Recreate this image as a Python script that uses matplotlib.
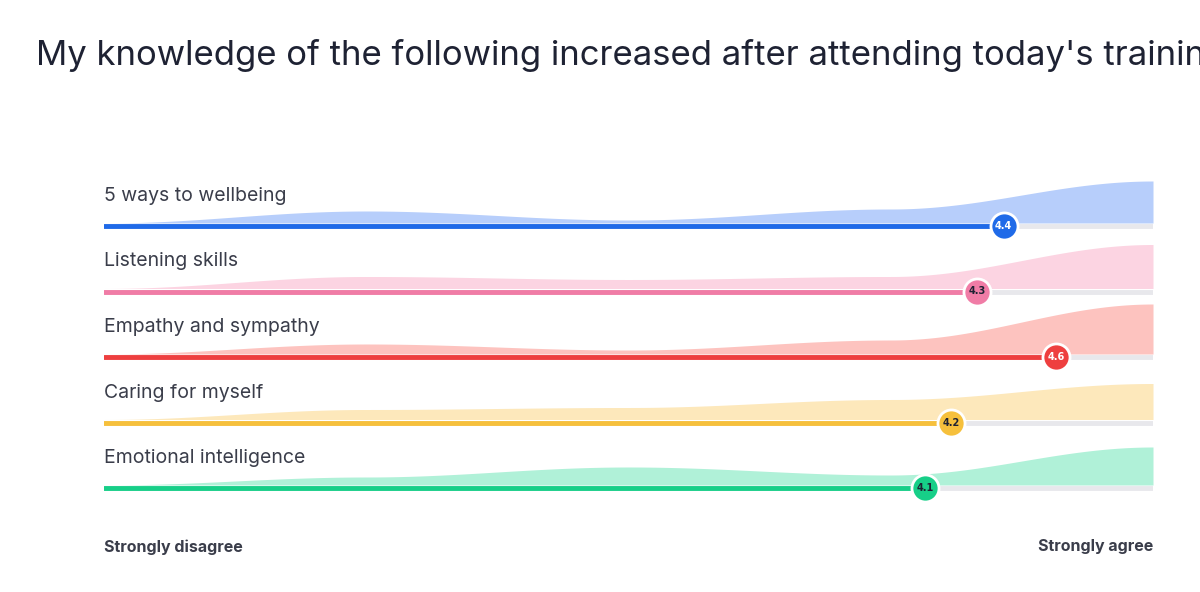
import matplotlib.pyplot as plt
import numpy as np

# survey rows, mean scores and response-shape heights at answers 1..5
items = ['5 ways to wellbeing', 'Listening skills', 'Empathy and sympathy',
         'Caring for myself', 'Emotional intelligence']
means = [4.4, 4.3, 4.6, 4.2, 4.1]
shapes = [
    [0, 12, 3, 14, 42],
    [0, 12, 9, 12, 44],
    [0, 10, 4, 14, 50],
    [0, 10, 12, 20, 36],
    [0, 8, 18, 10, 38],
]
line_cols = ['#1f6ae8', '#f07ca6', '#ee3f3f', '#f6c03c', '#17cf88']
fill_cols = ['#b7cefb', '#fcd4e2', '#fdc3bf', '#fde8bb', '#b0f1d8']
scale = [1, 2, 3, 4, 5]

fig = plt.figure(figsize=(12, 5.92), dpi=100)
fig.text(36 / 1200, 1 - 55 / 592, "My knowledge of the following increased after attending today's training",
         fontsize=25, color='#1e2233', family='Inter', va='center')

ax = fig.add_axes([104 / 1200, 0, 1049 / 1200, 1])
ax.set_xlim(1, 5)
ax.set_ylim(592, 0)
ax.axis('off')

def smooth(xs, nodes):
    # cosine easing between the five response heights
    out = np.zeros_like(xs)
    for i in range(4):
        m = (xs >= scale[i]) & (xs <= scale[i + 1])
        t = (xs[m] - scale[i])
        w = (1 - np.cos(np.pi * t)) / 2
        out[m] = nodes[i] * (1 - w) + nodes[i + 1] * w
    return out

xs = np.linspace(1, 5, 400)
for i, name in enumerate(items):
    y = 226 + 65.5 * i
    h = smooth(xs, shapes[i])
    ax.fill_between(xs, y - 3, y - 3 - h, color=fill_cols[i], lw=0)
    ax.plot([1, 5], [y, y], color='#e8e8ec', lw=3.5, solid_capstyle='round')
    ax.plot([1, means[i]], [y, y], color=line_cols[i], lw=3.5, solid_capstyle='round')
    ax.scatter([means[i] + 0.03], [y], s=380, color=line_cols[i], edgecolor='white', lw=2, zorder=5)
    ax.text(means[i] + 0.03, y, f'{means[i]:.1f}', ha='center', va='center', fontsize=7,
            fontweight='bold', color='white' if i in (0, 2) else '#1e2233', zorder=6)
    ax.text(1, y - 30, name, fontsize=14, color='#3a3d4a', family='Inter', va='center')

ax.text(1, 547, 'Strongly disagree', fontsize=11.5, fontweight='bold', color='#3a3d4a', family='Inter', va='center')
ax.text(5, 547, 'Strongly agree', fontsize=11.5, fontweight='bold', color='#3a3d4a', family='Inter',
        va='center', ha='right')

fig.savefig('out.png', dpi=100)
